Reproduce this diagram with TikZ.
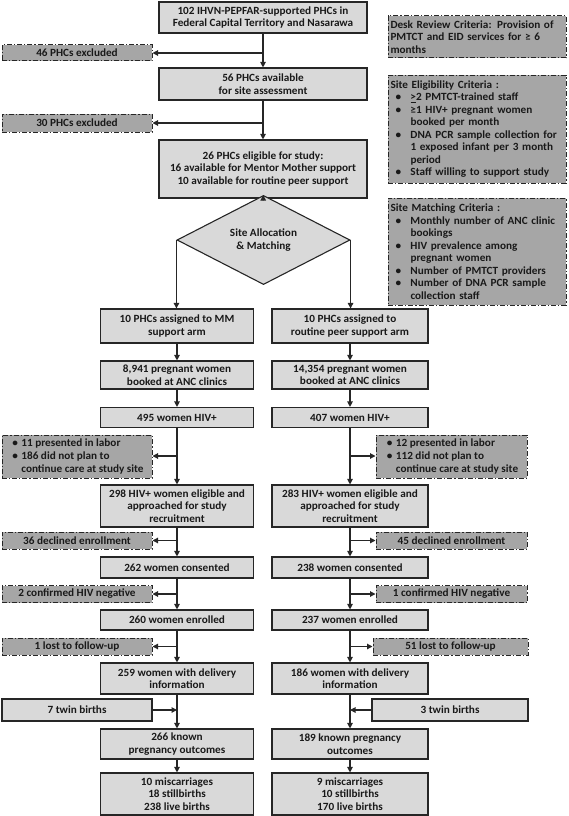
\documentclass[tikz,border=0pt]{standalone}
\usepackage{fontspec}
\setmainfont{Carlito}[FakeStretch=1.02]
\usetikzlibrary{shapes.geometric,arrows.meta}
\definecolor{lightbox}{gray}{0.85}
\definecolor{darkbox}{gray}{0.65}
\definecolor{edge}{gray}{0.15}
\newcommand{\cb}{\makebox[20pt][l]{\hspace{5pt}\textbullet}}
\newcommand{\cc}{\hspace*{20pt}}
\newcommand{\eb}{\makebox[11pt][l]{\hspace{2pt}\textbullet}}
\newcommand{\ec}{\hspace*{11pt}}
\begin{document}
\begin{tikzpicture}[x=1pt,y=-1pt,
  every node/.style={font=\bfseries\fontsize{11}{12.5}\selectfont, inner sep=0pt, text=black!90},
  mainbox/.style={draw=edge, fill=lightbox, line width=1.1pt, align=center},
  exbox/.style={draw=edge, fill=darkbox, line width=1pt, align=center,
    dash pattern=on 5pt off 2pt on 1.2pt off 2pt},
  critbox/.style={exbox, align=left, minimum width=178pt, text width=173pt},
  decision/.style={draw=edge, fill=lightbox, line width=1.1pt, diamond, align=center,
    minimum width=173pt, minimum height=56pt},
  arr/.style={draw=edge, line width=1.1pt, -{Triangle[length=5.5pt,width=5.5pt]}},
  ln/.style={draw=edge, line width=1.1pt}]
\useasboundingbox (0,0) rectangle (568,816);

% main column
\node[mainbox, minimum width=208pt, minimum height=31pt] (top) at (263,17.5)
  {102 IHVN-PEPFAR-supported PHCs in\\Federal Capital Territory and Nasarawa};
\node[mainbox, minimum width=208pt, minimum height=32pt] (avail) at (263,84)
  {56 PHCs available\\for site assessment};
\node[mainbox, minimum width=208pt, minimum height=58pt] (elig) at (263,169)
  {26 PHCs eligible for study:\\16 available for Mentor Mother support\\10 available for routine peer support};
\node[decision] (dec) at (263.5,240) {Site Allocation\\\& Matching};

\node[exbox, minimum width=150pt, minimum height=16pt] (ex46) at (77,53) {46 PHCs excluded};
\node[exbox, minimum width=150pt, minimum height=18pt] (ex30) at (77,123) {30 PHCs excluded};

% criteria
\node[critbox, minimum height=42pt] (desk) at (477,37)
  {Desk Review Criteria: Provision of\\PMTCT and EID services for ≥ 6\\months};
\node[critbox, minimum height=108pt] (selig) at (477,129)
  {Site Eligibility Criteria :\\
   \cb\underline{>}2 PMTCT-trained staff\\
   \cb≥1 HIV+ pregnant women\\
   \cc booked per month\\
   \cb DNA PCR sample collection for\\
   \cc 1 exposed infant per 3 month\\
   \cc period\\
   \cb Staff willing to support study};
\node[critbox, minimum height=107pt] (smatch) at (477,251.5)
  {Site Matching Criteria :\\
   \cb Monthly number of ANC clinic\\
   \cc bookings\\
   \cb HIV prevalence among\\
   \cc pregnant women\\
   \cb Number of PMTCT providers\\
   \cb Number of DNA PCR sample\\
   \cc collection staff};

% left column
\node[mainbox, minimum width=153pt, minimum height=34pt] (l1) at (177,326) {10 PHCs assigned to MM\\support arm};
\node[mainbox, minimum width=153pt, minimum height=28pt] (l2) at (177,375) {8,941 pregnant women\\booked at ANC clinics};
\node[mainbox, minimum width=153pt, minimum height=20pt] (l3) at (177,417.5) {495 women HIV+};
\node[mainbox, minimum width=153pt, minimum height=42pt] (l4) at (177,506) {298 HIV+ women eligible and\\approached for study\\recruitment};
\node[mainbox, minimum width=153pt, minimum height=21pt] (l5) at (177,567.5) {262 women consented};
\node[mainbox, minimum width=153pt, minimum height=20pt] (l6) at (177,620) {260 women enrolled};
\node[mainbox, minimum width=153pt, minimum height=31pt] (l7) at (177,678.5) {259 women with delivery\\information};
\node[mainbox, minimum width=153pt, minimum height=30pt] (l8) at (177,744) {266 known\\pregnancy outcomes};
\node[mainbox, minimum width=153pt, minimum height=42pt] (l9) at (177,794) {10 miscarriages\\18 stillbirths\\238 live births};

\node[exbox, minimum width=150pt, minimum height=43pt, align=left] (le1) at (77,456.5)
  {\eb 11 presented in labor\\\eb 186 did not plan to\\\ec continue care at study site};
\node[exbox, minimum width=150pt, minimum height=17pt] (le2) at (77,540.5) {36 declined enrollment};
\node[exbox, minimum width=150pt, minimum height=17pt] (le3) at (77,594) {2 confirmed HIV negative};
\node[exbox, minimum width=150pt, minimum height=17pt] (le4) at (77,646.5) {1 lost to follow-up};
\node[mainbox, minimum width=150pt, minimum height=22pt] (lt) at (77,710) {7 twin births};

% right column
\node[mainbox, minimum width=156pt, minimum height=34pt] (r1) at (350,326) {10 PHCs assigned to\\routine peer support arm};
\node[mainbox, minimum width=156pt, minimum height=28pt] (r2) at (350,375) {14,354 pregnant women\\booked at ANC clinics};
\node[mainbox, minimum width=156pt, minimum height=20pt] (r3) at (350,417.5) {407 women HIV+};
\node[mainbox, minimum width=156pt, minimum height=42pt] (r4) at (350,506) {283 HIV+ women eligible and\\approached for study\\recruitment};
\node[mainbox, minimum width=156pt, minimum height=21pt] (r5) at (350,567.5) {238 women consented};
\node[mainbox, minimum width=156pt, minimum height=20pt] (r6) at (350,620) {237 women enrolled};
\node[mainbox, minimum width=156pt, minimum height=31pt] (r7) at (350,678.5) {186 women with delivery\\information};
\node[mainbox, minimum width=156pt, minimum height=30pt] (r8) at (350,744) {189 known pregnancy\\outcomes};
\node[mainbox, minimum width=156pt, minimum height=42pt] (r9) at (350,794) {9 miscarriages\\10 stillbirths\\170 live births};

\node[exbox, minimum width=151pt, minimum height=43pt, align=left] (re1) at (451.5,456.5)
  {\eb 12 presented in labor\\\eb 112 did not plan to\\\ec continue care at study site};
\node[exbox, minimum width=151pt, minimum height=17pt] (re2) at (451.5,540.5) {45 declined enrollment};
\node[exbox, minimum width=151pt, minimum height=17pt] (re3) at (451.5,594) {1 confirmed HIV negative};
\node[exbox, minimum width=155pt, minimum height=17pt] (re4) at (450.5,646.5) {51 lost to follow-up};
\node[mainbox, minimum width=156pt, minimum height=22pt] (rt) at (450,710) {3 twin births};

% branch points
\coordinate (b46) at (263,53);
\coordinate (b30) at (263,123);
\coordinate (bl1) at (177,456);
\coordinate (bl2) at (177,540.5);
\coordinate (bl3) at (177,594);
\coordinate (bl4) at (177,646.5);
\coordinate (blt) at (177,710);
\coordinate (br1) at (350,456);
\coordinate (br2) at (350,540.5);
\coordinate (br3) at (350,594);
\coordinate (br4) at (350,646.5);
\coordinate (brt) at (350,710);

% connectors main
\draw[arr] (top) -- (avail);
\draw[arr] (b46) -- (b46 -| ex46.east);
\draw[arr] (avail) -- (elig);
\draw[arr] (b30) -- (b30 -| ex30.east);
\draw[arr] (elig) -- (dec);
\draw[arr] (dec.west) -- (dec.west |- l1.north);
\draw[arr] (dec.east) -- (dec.east |- r1.north);

% left column connectors
\draw[arr] (l1) -- (l2);
\draw[arr] (l2) -- (l3);
\draw[arr] (l3) -- (l4);
\draw[arr] (bl1) -- (bl1 -| le1.east);
\draw[arr] (l4) -- (l5);
\draw[arr] (bl2) -- (bl2 -| le2.east);
\draw[arr] (l5) -- (l6);
\draw[arr] (bl3) -- (bl3 -| le3.east);
\draw[arr] (l6) -- (l7);
\draw[arr] (bl4) -- (bl4 -| le4.east);
\draw[arr] (l7) -- (l8);
\draw[arr] (lt.east) -- (blt);
\draw[arr] (l8) -- (l9);

% right column connectors
\draw[arr] (r1) -- (r2);
\draw[arr] (r2) -- (r3);
\draw[arr] (r3) -- (r4);
\draw[arr] (br1) -- (br1 -| re1.west);
\draw[arr] (r4) -- (r5);
\draw[arr] (br2) -- (br2 -| re2.west);
\draw[arr] (r5) -- (r6);
\draw[arr] (br3) -- (br3 -| re3.west);
\draw[arr] (r6) -- (r7);
\draw[arr] (br4) -- (br4 -| re4.west);
\draw[arr] (r7) -- (r8);
\draw[arr] (rt.west) -- (brt);
\draw[arr] (r8) -- (r9);
\end{tikzpicture}
\end{document}
